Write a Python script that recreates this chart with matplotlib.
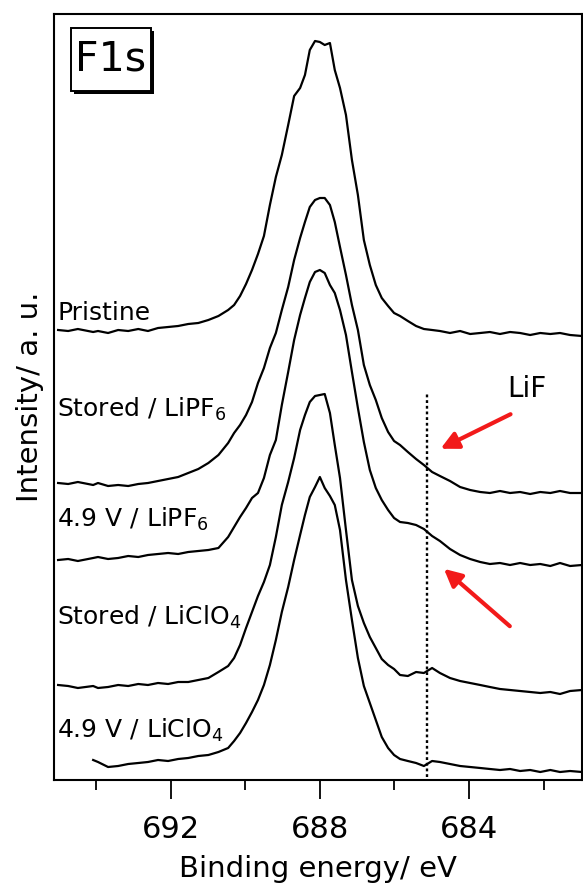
import numpy as np
import matplotlib.pyplot as plt
import matplotlib.patheffects as pe
from matplotlib.patches import Rectangle

plt.rcParams['font.family'] = ['DejaVu Sans']
plt.rcParams['mathtext.default'] = 'regular'

# binding energy grid (eV), shared by all spectra
binding_energy = [
    695.02, 694.75, 694.49, 694.08, 693.95, 693.68, 693.41, 693.14, 692.87, 692.61,
    692.34, 692.07, 691.80, 691.53, 691.26, 690.99, 690.72, 690.46, 690.30, 690.14,
    689.98, 689.82, 689.66, 689.50, 689.34, 689.18, 689.02, 688.85, 688.69, 688.53,
    688.40, 688.27, 688.13, 688.00, 687.87, 687.73, 687.60, 687.46, 687.30, 687.14,
    686.98, 686.82, 686.66, 686.50, 686.34, 686.17, 686.01, 685.85, 685.64, 685.42,
    685.21, 684.99, 684.78, 684.51, 684.24, 683.97, 683.70, 683.44, 683.17, 682.90,
    682.63, 682.36, 682.09, 681.82, 681.56, 681.29, 680.97]

# stacked F1s spectra (a.u., offsets included)
pristine = [
    450, 449, 451, 448, 449, 447, 450, 449, 451, 449,
    452, 453, 454, 456, 457, 460, 464, 470, 475, 484,
    496, 510, 526, 544, 575, 603, 625, 655, 684, 692,
    705, 730, 739, 738, 735, 737, 710, 692, 665, 620,
    585, 540, 515, 495, 482, 474, 467, 464, 459, 454,
    451, 450, 449, 447, 449, 446, 447, 448, 446, 448,
    447, 445, 447, 446, 447, 445, 444]
stored_lipf6 = [
    297, 296, 298, 295, 297, 294, 295, 294, 296, 297,
    299, 301, 303, 307, 311, 317, 325, 337, 347, 355,
    365, 378, 397, 412, 432, 447, 470, 493, 520, 542,
    558, 573, 580, 582, 582, 575, 558, 533, 505, 475,
    450, 415, 395, 380, 362, 348, 339, 335, 328, 321,
    315, 308, 304, 299, 293, 290, 288, 287, 289, 287,
    288, 286, 288, 287, 289, 287, 287]
charged_lipf6 = [
    220, 221, 219, 222, 223, 221, 222, 224, 223, 225,
    226, 227, 226, 228, 229, 230, 232, 243, 253, 263,
    272, 282, 287, 302, 325, 340, 375, 408, 440, 465,
    482, 498, 508, 510, 507, 495, 487, 470, 445, 408,
    372, 338, 310, 292, 280, 270, 262, 258, 257, 255,
    251, 244, 239, 231, 225, 221, 218, 216, 217, 215,
    217, 215, 216, 214, 217, 214, 215]
stored_liclo4 = [
    95, 94, 92, 94, 92, 93, 95, 94, 96, 95,
    97, 96, 98, 98, 100, 102, 108, 114, 122, 135,
    152, 168, 184, 198, 215, 243, 275, 298, 322, 350,
    365, 378, 384, 385, 386, 367, 335, 302, 250, 200,
    174, 157, 143, 132, 121, 115, 111, 105, 104, 108,
    107, 112, 107, 102, 99, 97, 95, 93, 91, 90,
    89, 88, 87, 88, 86, 89, 90]
charged_liclo4 = [
    np.nan, np.nan, np.nan, 20, 18, 13, 14, 16, 17, 18,
    20, 19, 21, 22, 24, 25, 28, 32, 39, 47,
    57, 68, 80, 95, 115, 140, 168, 193, 220, 245,
    265, 283, 293, 303, 292, 284, 275, 250, 200, 160,
    122, 94, 77, 60, 43, 32, 25, 21, 19, 17,
    14, 19, 18, 16, 14, 13, 12, 11, 10, 11,
    9, 10, 8, 10, 8, 9, 8]

spectra = [pristine, stored_lipf6, charged_lipf6, stored_liclo4, charged_liclo4]
labels = ['Pristine', 'Stored / LiPF$_6$', '4.9 V / LiPF$_6$',
          'Stored / LiClO$_4$', '4.9 V / LiClO$_4$']
label_y = [460, 363, 253, 155, 42]
lif_energy = 685.13

fig = plt.figure(figsize=(5.83, 8.86), dpi=100)
ax = fig.add_axes([54 / 583, 106 / 886, 528 / 583, 766 / 886])

for y, lab, ly in zip(spectra, labels, label_y):
    ax.plot(binding_energy, y, color='black', lw=1.6)
    ax.text(0.006, ly, lab, transform=ax.get_yaxis_transform(),
            fontsize=18, ha='left', va='baseline')

# LiF position
ax.plot([lif_energy, lif_energy], [3, 387], color='black', lw=1.7,
        linestyle=(0, (1.2, 1.2)))

red = '#f21a1a'
ax.annotate('', xy=(684.83, 330), xytext=(682.82, 367),
            arrowprops=dict(arrowstyle='-|>', color=red, lw=3, mutation_scale=26))
ax.annotate('', xy=(684.73, 213), xytext=(682.85, 152),
            arrowprops=dict(arrowstyle='-|>', color=red, lw=3, mutation_scale=26))
ax.text(682.44, 391, 'LiF', fontsize=20, ha='center', va='center')

# F1s label in a box with drop shadow
box = Rectangle((0.0322, 0.8995), 0.1515, 0.0822, transform=ax.transAxes,
                fc='white', ec='black', lw=1.4, zorder=5)
box.set_path_effects([
    pe.SimplePatchShadow(offset=(2.0, -2.0), shadow_rgbFace='black', alpha=1.0),
    pe.Normal()])
ax.add_patch(box)
ax.text(0.108, 0.9406, 'F1s', transform=ax.transAxes, fontsize=29.5,
        ha='center', va='center', zorder=6)

ax.set_xlim(695.13, 680.97)
ax.set_ylim(0, 766)
ax.set_xticks([692, 688, 684])
ax.set_xticks([694, 690, 686, 682], minor=True)
ax.set_yticks([])
ax.tick_params(axis='x', which='major', direction='out', length=14, width=1.3,
               labelsize=22, pad=11)
ax.tick_params(axis='x', which='minor', direction='out', length=7, width=1.3)
for s in ax.spines.values():
    s.set_linewidth(1.5)

ax.set_xlabel('Binding energy/ eV', fontsize=21, labelpad=8)
ax.set_ylabel('Intensity/ a. u.', fontsize=21)
ax.yaxis.set_label_coords(-0.019, 0.5)

fig.savefig('out.png', dpi=100)
